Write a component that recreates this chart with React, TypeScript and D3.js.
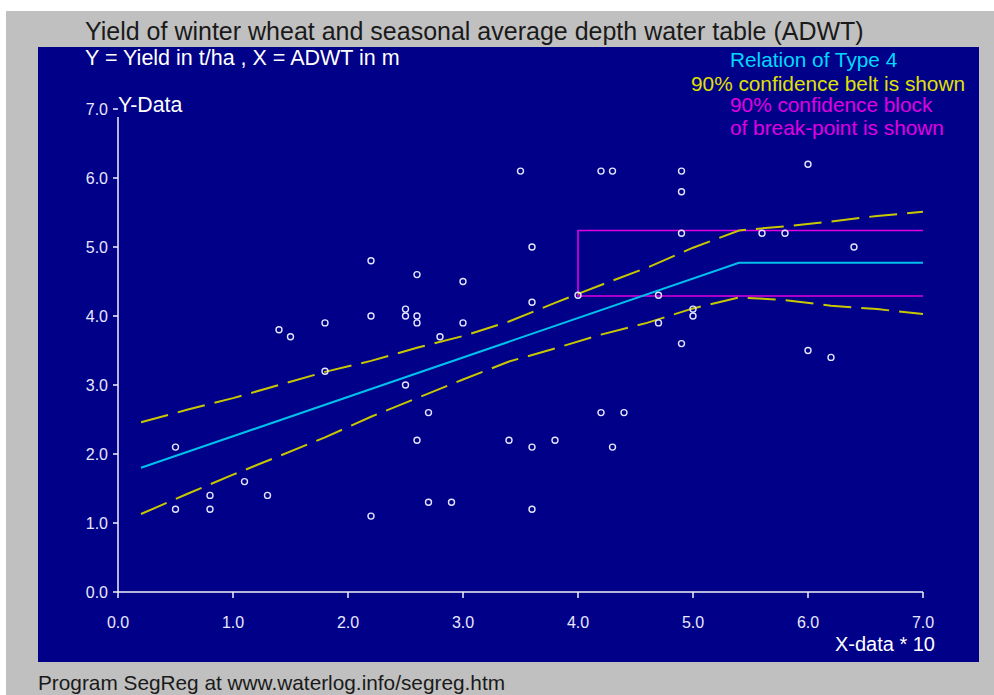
import React from "react";
// @ts-ignore
import * as d3 from "d3";

const W = 994;
const H = 695;

// observed data (X-data * 10, yield t/ha)
const obsX = [0.5, 0.5, 0.8, 0.8, 1.1, 1.3, 1.4, 1.5, 1.8, 1.8, 2.2, 2.2, 2.2, 2.5, 2.5, 2.5, 2.6, 2.6, 2.6, 2.6, 2.7, 2.7, 2.8, 2.9, 3.0, 3.0, 3.4, 3.5, 3.6, 3.6, 3.6, 3.6, 3.8, 4.0, 4.2, 4.2, 4.3, 4.3, 4.4, 4.7, 4.7, 4.9, 4.9, 4.9, 4.9, 5.0, 5.0, 5.6, 5.8, 6.0, 6.0, 6.2, 6.4];
const obsY = [1.2, 2.1, 1.4, 1.2, 1.6, 1.4, 3.8, 3.7, 3.9, 3.2, 4.8, 4.0, 1.1, 4.1, 4.0, 3.0, 4.6, 4.0, 3.9, 2.2, 2.6, 1.3, 3.7, 1.3, 4.5, 3.9, 2.2, 6.1, 5.0, 4.2, 2.1, 1.2, 2.2, 4.3, 6.1, 2.6, 6.1, 2.1, 2.6, 4.3, 3.9, 6.1, 5.8, 5.2, 3.6, 4.1, 4.0, 5.2, 5.2, 6.2, 3.5, 3.4, 5.0];

// segmented regression (type 4)
const fitX = [0.2, 5.4, 7.0];
const fitY = [1.8, 4.77, 4.77];

// 90% confidence belt
const beltX = [0.2, 0.6, 1.0, 1.4, 1.8, 2.2, 2.6, 3.0, 3.4, 3.8, 4.2, 4.6, 5.0, 5.4, 5.8, 6.2, 6.6, 7.0];
const beltUpper = [2.46, 2.64, 2.81, 3.0, 3.19, 3.35, 3.54, 3.71, 3.92, 4.19, 4.45, 4.7, 4.99, 5.24, 5.3, 5.37, 5.45, 5.51];
const beltLower = [1.13, 1.42, 1.7, 1.97, 2.24, 2.54, 2.81, 3.08, 3.34, 3.53, 3.73, 3.9, 4.11, 4.27, 4.23, 4.15, 4.1, 4.03];

// 90% confidence block of break-point
const blockX = [4.0, 7.0];
const blockY = [4.29, 5.24];

const xTicks = [0, 1, 2, 3, 4, 5, 6, 7];
const yTicks = [0, 1, 2, 3, 4, 5, 6, 7];

const FONT = "'Liberation Sans', Arial, sans-serif";

const App = () => {
  const svgRef = React.useRef<SVGSVGElement>(null);

  React.useEffect(() => {
    const svg = d3.select(svgRef.current);
    svg.selectAll("*").remove();

    const x = d3.scaleLinear().domain([0, 7]).range([118, 923]);
    const y = d3.scaleLinear().domain([0, 7]).range([592, 109]);

    svg.append("rect").attr("width", W).attr("height", H).attr("fill", "#ffffff");
    svg.append("rect").attr("x", 6).attr("y", 11).attr("width", W - 6).attr("height", H - 11).attr("fill", "#c0c0c0");
    svg.append("rect").attr("x", 38).attr("y", 47).attr("width", 941).attr("height", 615).attr("fill", "#000088");

    svg.append("text")
      .attr("x", 85).attr("y", 40)
      .attr("font-size", 25).attr("font-family", FONT).attr("fill", "#1a1a1a")
      .text("Yield of winter wheat and seasonal average depth water table (ADWT)");

    svg.append("text")
      .attr("x", 85).attr("y", 65)
      .attr("font-size", 21.5).attr("font-family", FONT).attr("fill", "#ffffff")
      .text("Y = Yield in t/ha , X = ADWT in m");

    const legend = [
      { t: "Relation of Type 4", x: 730, y: 67, c: "#00d8ff" },
      { t: "90% confidence belt is shown", x: 691, y: 91, c: "#e0e000" },
      { t: "90% confidence block", x: 730, y: 112, c: "#e000e0" },
      { t: "of break-point is shown", x: 730, y: 135, c: "#e000e0" },
    ];
    svg.append("g")
      .attr("font-size", 20.8).attr("font-family", FONT)
      .selectAll("text").data(legend).join("text")
      .attr("x", (d: any) => d.x).attr("y", (d: any) => d.y)
      .attr("fill", (d: any) => d.c)
      .text((d: any) => d.t);

    // axes
    const axisColor = "#f0f0f8";
    svg.append("line")
      .attr("x1", x(0)).attr("x2", x(7)).attr("y1", y(0)).attr("y2", y(0))
      .attr("stroke", axisColor).attr("stroke-width", 1.5);
    svg.append("line")
      .attr("x1", x(0)).attr("x2", x(0)).attr("y1", y(7) + 8).attr("y2", y(0))
      .attr("stroke", axisColor).attr("stroke-width", 1.5);

    svg.append("g").selectAll("line").data(xTicks).join("line")
      .attr("x1", (d: number) => x(d)).attr("x2", (d: number) => x(d))
      .attr("y1", y(0)).attr("y2", y(0) + 6)
      .attr("stroke", axisColor).attr("stroke-width", 1.5);
    svg.append("g").selectAll("line").data(yTicks).join("line")
      .attr("x1", x(0) - 5).attr("x2", x(0))
      .attr("y1", (d: number) => y(d)).attr("y2", (d: number) => y(d))
      .attr("stroke", axisColor).attr("stroke-width", 1.5);

    svg.append("g")
      .attr("font-size", 16).attr("font-family", FONT).attr("fill", "#e8e8ff")
      .attr("text-anchor", "middle")
      .selectAll("text").data(xTicks).join("text")
      .attr("x", (d: number) => x(d)).attr("y", 628)
      .text((d: number) => d.toFixed(1));
    svg.append("g")
      .attr("font-size", 16).attr("font-family", FONT).attr("fill", "#e8e8ff")
      .attr("text-anchor", "end")
      .selectAll("text").data(yTicks).join("text")
      .attr("x", 108).attr("y", (d: number) => y(d) + 6)
      .text((d: number) => d.toFixed(1));

    svg.append("text")
      .attr("x", 118).attr("y", 112)
      .attr("font-size", 21.3).attr("font-family", FONT).attr("fill", "#ffffff")
      .text("Y-Data");
    svg.append("text")
      .attr("x", 935).attr("y", 651).attr("text-anchor", "end")
      .attr("font-size", 20).attr("font-family", FONT).attr("fill", "#ffffff")
      .text("X-data * 10");

    svg.append("text")
      .attr("x", 38).attr("y", 690)
      .attr("font-size", 20.8).attr("font-family", FONT).attr("fill", "#1a1a1a")
      .text("Program SegReg at www.waterlog.info/segreg.htm");

    // confidence block
    const bx0 = x(blockX[0]);
    const bx1 = x(blockX[1]);
    svg.append("path")
      .attr("d", `M${bx1},${y(blockY[1])}H${bx0}V${y(blockY[0])}H${bx1}`)
      .attr("fill", "none").attr("stroke", "#e000e0").attr("stroke-width", 1.6);

    // belt
    const line = d3.line()
      .x((d: any) => x(d[0]))
      .y((d: any) => y(d[1]));
    [beltUpper, beltLower].forEach((arr) => {
      svg.append("path")
        .attr("d", line(beltX.map((v, i) => [v, arr[i]])))
        .attr("fill", "none").attr("stroke", "#c8c800")
        .attr("stroke-width", 2).attr("stroke-dasharray", "28 10");
    });

    // fitted relation
    svg.append("path")
      .attr("d", line(fitX.map((v, i) => [v, fitY[i]])))
      .attr("fill", "none").attr("stroke", "#00c0ec").attr("stroke-width", 2);

    // points
    svg.append("g").selectAll("circle").data(obsX.map((v, i) => [v, obsY[i]])).join("circle")
      .attr("cx", (d: any) => x(d[0])).attr("cy", (d: any) => y(d[1]))
      .attr("r", 3).attr("fill", "none")
      .attr("stroke", "#e4e4ff").attr("stroke-width", 1.4);
  }, []);

  return (
    <svg
      ref={svgRef}
      width={W}
      height={H}
      style={{ position: "absolute", left: 0, top: 0, display: "block" }}
    />
  );
};

export default App;
